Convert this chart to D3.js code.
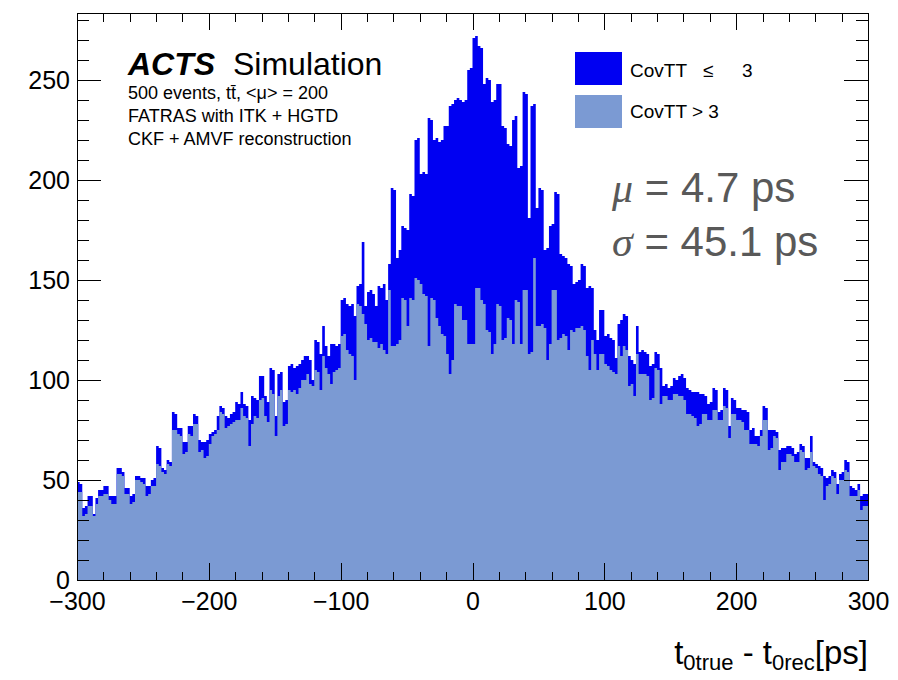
<!DOCTYPE html>
<html><head><meta charset="utf-8">
<script src="https://cdn.jsdelivr.net/npm/d3@7"></script>
<style>body{margin:0;background:#fff} svg{display:block}</style>
</head><body><svg id="c" width="898" height="680"></svg>
<script>
// ---------- data ----------
const xTickValues = [-300, -200, -100, 0, 100, 200, 300];
const yTickValues = [0, 50, 100, 150, 200, 250];
const binWidth = 2;
const binLowEdges = d3.range(-300, 300, binWidth);
const seriesNames = ["CovTT > 3", "CovTT \u2264 3"];
// top of the stack (CovTT > 3 plus CovTT <= 3), per 2 ps bin
const totalCounts = [
49,48,36,37,42,42,33,41,45,45,
47,47,42,42,42,56,56,54,46,46,
42,43,52,52,51,51,47,47,50,51,
67,66,56,55,60,59,84,83,76,76,
69,69,77,77,83,82,70,69,69,70,
73,74,75,82,87,86,82,81,83,84,
89,88,94,88,87,80,92,91,90,102,
102,92,89,106,105,82,103,104,89,90,
107,108,106,107,108,110,112,112,110,100,
120,119,113,127,117,112,118,118,117,118,
140,141,138,137,138,132,147,148,169,137,
144,145,143,137,147,146,148,140,158,196,
195,161,165,177,176,175,193,192,220,221,
203,204,203,231,230,220,221,219,220,227,
227,237,238,240,241,240,239,240,255,256,
271,272,267,266,248,251,250,239,240,248,
248,227,226,218,217,230,232,206,207,244,
243,181,237,238,186,196,195,165,166,177,
178,194,193,163,162,161,158,157,148,149,
150,158,157,146,147,146,125,120,135,135,
122,123,121,120,111,128,130,133,132,112,
110,108,127,114,115,114,113,107,108,114,
113,106,97,98,96,97,101,100,102,103,
101,96,95,94,94,94,93,93,92,88,
89,96,95,84,85,96,95,77,91,90,
86,86,85,85,84,75,76,72,72,75,
87,86,75,75,75,74,65,66,66,67,
67,66,63,64,68,67,61,61,72,59,
58,57,56,52,51,52,55,54,48,53,
54,60,59,47,46,45,48,42,43,43];
// CovTT > 3 (bottom of the stack)
const covGt3Counts = [
44,44,32,33,37,37,32,38,42,42,
43,43,40,38,38,53,53,52,43,43,
38,39,50,50,49,48,42,43,47,47,
58,57,54,53,58,57,75,75,73,72,
63,64,73,72,78,78,64,65,61,62,
68,72,73,75,84,83,76,77,78,79,
80,80,86,82,81,67,78,82,81,90,
91,82,79,95,93,72,92,95,77,78,
95,94,95,93,96,100,100,103,98,97,
105,104,95,112,106,103,98,104,105,106,
122,123,115,113,112,100,138,137,133,128,
120,121,119,119,116,118,115,113,145,117,
117,118,120,141,140,127,141,140,151,150,
148,143,142,117,141,140,131,127,123,122,
113,103,110,138,137,137,130,130,118,118,
118,146,146,140,138,125,124,113,118,138,
137,120,121,131,130,118,140,139,118,145,
145,113,114,161,127,127,128,126,110,118,
145,145,120,121,123,122,115,125,124,126,
126,127,125,112,105,120,113,105,113,113,
108,107,105,104,103,117,112,117,115,97,
98,92,113,103,103,103,102,90,91,106,
105,88,92,92,90,90,93,93,92,92,
90,83,83,82,81,77,78,83,83,80,
80,85,85,80,80,87,86,71,83,83,
80,80,79,75,75,68,68,68,67,72,
80,80,65,66,72,71,55,59,59,63,
63,62,59,59,65,64,55,56,64,57,
56,53,52,40,47,48,52,51,43,50,
50,55,54,42,42,42,45,35,37,37];
// CovTT <= 3 is the remainder of the stack
const covLe3Counts = totalCounts.map((t, i) => t - covGt3Counts[i]);

// ---------- drawing ----------
const darkBlue = "#0000f2", lightBlue = "#7b9ad3";
const svg = d3.select("#c");
const X0 = 77, X1 = 868, Y0 = 580, Y1 = 13;
const x = d3.scaleLinear().domain([-300, 300]).range([X0, X1]);
const y = d3.scaleLinear().domain([0, 283.5]).range([Y0, Y1]);

const rows = binLowEdges.map((e, i) => ({lo: e, gt3: covGt3Counts[i], le3: covLe3Counts[i]}));
const stack = d3.stack().keys(["gt3", "le3"])(rows);

function stepPoints(layer) {
  const pts = [];
  layer.forEach(d => {
    pts.push({x: d.data.lo, y0: d[0], y1: d[1]});
    pts.push({x: d.data.lo + binWidth, y0: d[0], y1: d[1]});
  });
  return pts;
}
const area = d3.area().x(d => x(d.x)).y0(d => y(d.y0)).y1(d => y(d.y1));
const fullArea = d3.area().x(d => x(d.x)).y0(y(0)).y1(d => y(d.y1));
svg.append("path").attr("d", fullArea(stepPoints(stack[1]))).attr("fill", darkBlue);
svg.append("path").attr("d", area(stepPoints(stack[0]))).attr("fill", lightBlue);

// axes
const font = "'Liberation Sans', Arial, Helvetica, sans-serif";
function style(g) {
  g.select(".domain").remove();
  g.selectAll("line").attr("stroke", "#000").attr("stroke-width", 1).attr("shape-rendering", "crispEdges");
  g.selectAll("text").attr("font-family", font).attr("font-size", 25).attr("fill", "#000");
}
const xMinor = d3.range(-300, 301, 20).filter(v => v % 100 !== 0);
const yMinor = d3.range(0, 281, 10).filter(v => v % 50 !== 0);

svg.append("g").attr("transform", `translate(0,${Y0})`)
  .call(d3.axisBottom(x).tickValues(xTickValues).tickSize(-17).tickPadding(12).tickFormat(d3.format("d"))).call(style);
svg.append("g").attr("transform", `translate(0,${Y0})`)
  .call(d3.axisBottom(x).tickValues(xMinor).tickSize(-8.5).tickFormat("")).call(style);
svg.append("g").attr("transform", `translate(0,${Y1})`)
  .call(d3.axisTop(x).tickValues(xTickValues).tickSize(-17).tickFormat("")).call(style);
svg.append("g").attr("transform", `translate(0,${Y1})`)
  .call(d3.axisTop(x).tickValues(xMinor).tickSize(-8.5).tickFormat("")).call(style);
svg.append("g").attr("transform", `translate(${X0},0)`)
  .call(d3.axisLeft(y).tickValues(yTickValues).tickSize(-23.7).tickPadding(7).tickFormat(d3.format("d"))).call(style);
svg.append("g").attr("transform", `translate(${X0},0)`)
  .call(d3.axisLeft(y).tickValues(yMinor).tickSize(-12).tickFormat("")).call(style);
svg.append("g").attr("transform", `translate(${X1},0)`)
  .call(d3.axisRight(y).tickValues(yTickValues).tickSize(-23.7).tickFormat("")).call(style);
svg.append("g").attr("transform", `translate(${X1},0)`)
  .call(d3.axisRight(y).tickValues(yMinor).tickSize(-12).tickFormat("")).call(style);

svg.append("rect").attr("x", X0).attr("y", Y1).attr("width", X1 - X0).attr("height", Y0 - Y1)
  .attr("fill", "none").attr("stroke", "#000").attr("stroke-width", 1).attr("shape-rendering", "crispEdges");

// axis title
const xt = svg.append("text").attr("x", X1).attr("y", 664).attr("text-anchor", "end")
  .attr("font-family", font).attr("font-size", 33).attr("fill", "#000");
xt.append("tspan").text("t");
xt.append("tspan").attr("font-size", 22).attr("dy", 6).text("0true");
xt.append("tspan").attr("dy", -6).text(" - t");
xt.append("tspan").attr("font-size", 22).attr("dy", 6).text("0rec");
xt.append("tspan").attr("dy", -6).text("[ps]");

// ACTS label
const t1 = svg.append("text").attr("x", 128).attr("y", 75).attr("font-family", font).attr("font-size", 32).attr("fill", "#000");
t1.append("tspan").attr("font-weight", "bold").attr("font-style", "italic").text("ACTS");
t1.append("tspan").attr("x", 233).text("Simulation");
const info = ["500 events, t\u0074\u0304, <\u03bc> = 200", "FATRAS with ITK + HGTD", "CKF + AMVF reconstruction"];
svg.selectAll("text.info").data(info).enter().append("text").attr("class", "info")
  .attr("x", 128).attr("y", (d, i) => 99 + i * 23)
  .attr("font-family", font).attr("font-size", 18).attr("fill", "#000").text(d => d);

// legend
const legColors = [darkBlue, lightBlue];
[0, 1].forEach(i => {
  svg.append("rect").attr("x", 575).attr("y", 52 + i * 43).attr("width", 47).attr("height", 33).attr("fill", legColors[i]);
});
const lg1 = svg.append("text").attr("y", 77).attr("font-family", font).attr("font-size", 19).attr("fill", "#000");
lg1.append("tspan").attr("x", 630).text("CovTT");
lg1.append("tspan").attr("x", 703).text("\u2264");
lg1.append("tspan").attr("x", 742).text("3");
svg.append("text").attr("x", 630).attr("y", 118).attr("font-family", font).attr("font-size", 19).attr("fill", "#000").text(seriesNames[0]);

// fit results
const stats = [["\u03bc", " = 4.7 ps"], ["\u03c3", " = 45.1 ps"]];
stats.forEach((s, i) => {
  const t = svg.append("text").attr("x", 612).attr("y", 202 + i * 54).attr("font-size", 42).attr("fill", "#595959");
  t.append("tspan").attr("font-family", "'Liberation Serif', 'Times New Roman', serif").attr("font-style", "italic").text(s[0]);
  t.append("tspan").attr("font-family", font).text(s[1]);
});
</script></body></html>
